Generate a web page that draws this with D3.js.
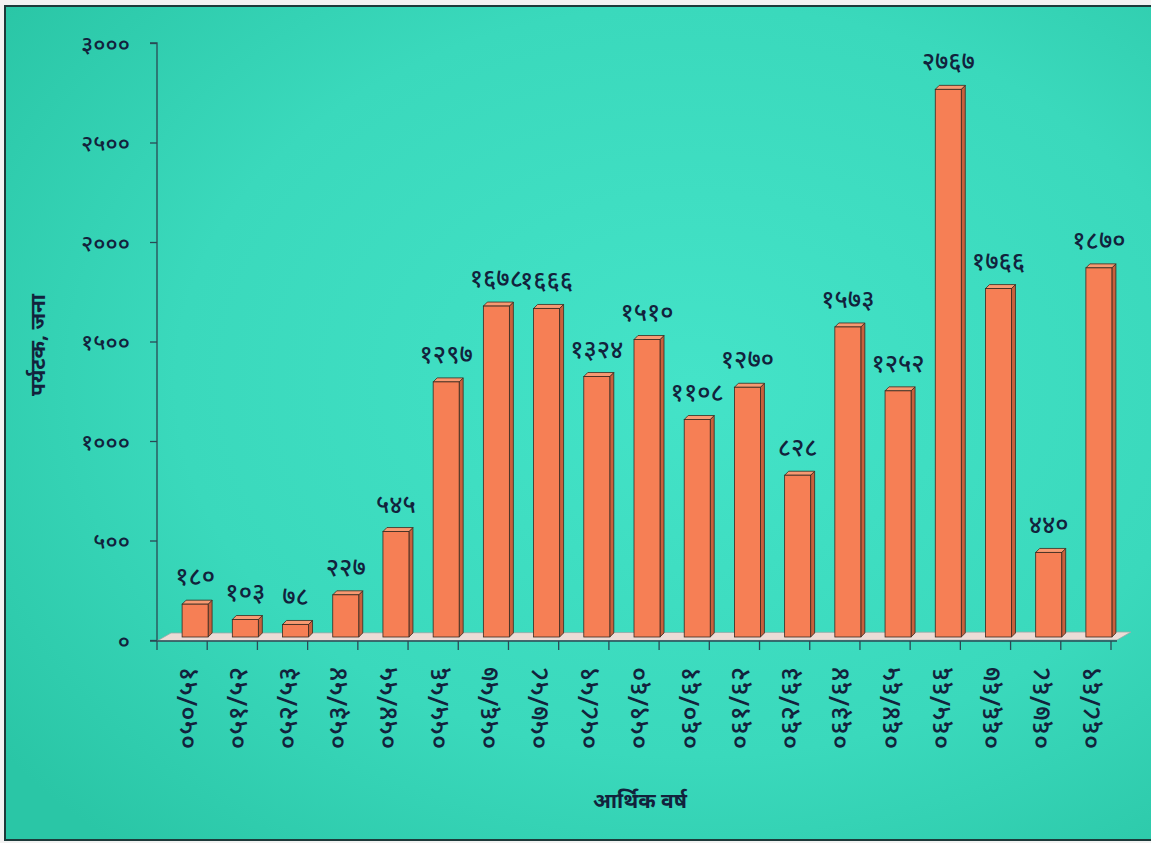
<!DOCTYPE html>
<html><head><meta charset="utf-8">
<script src="https://cdn.jsdelivr.net/npm/d3@7/dist/d3.min.js"></script>
<style>
html,body{margin:0;padding:0;background:#f4f4f4;}
svg{display:block;}
text{font-family:"Noto Sans","Noto Sans Devanagari","Lohit Devanagari",sans-serif;}
</style></head>
<body>
<script>
const categories = ["०५०/५१","०५१/५२","०५२/५३","०५३/५४","०५४/५५","०५५/५६","०५६/५७","०५७/५८","०५८/५९","०५९/६०","०६०/६१","०६१/६२","०६२/६३","०६३/६४","०६४/६५","०६५/६६","०६६/६७","०६७/६८","०६८/६९"];
const values = [180,103,78,227,545,1297,1678,1666,1324,1510,1108,1270,828,1573,1252,2767,1766,440,1870];
const tickValues = [0,500,1000,1500,2000,2500,3000];
const tickLabels = ["०","५००","१०००","१५००","२०००","२५००","३०००"];
const yTitle = "पर्यटक, जना";
const xTitle = "आर्थिक वर्ष";
const devDigits = "०१२३४५६७८९";
const toDev = n => String(n).replace(/[0-9]/g, d => devDigits[+d]);

const W = 1151, H = 843;
const svg = d3.select("body").append("svg").attr("width", W).attr("height", H);
const defs = svg.append("defs");
const g1 = defs.append("radialGradient").attr("id","bg").attr("cx","0.6").attr("cy","0.45").attr("r","0.75");
g1.append("stop").attr("offset","0").attr("stop-color","#44e3c8");
g1.append("stop").attr("offset","0.6").attr("stop-color","#3ad9bc");
g1.append("stop").attr("offset","1").attr("stop-color","#2ac6a6");

svg.append("rect").attr("x",0).attr("y",0).attr("width",W).attr("height",H).attr("fill","#f2f2f2");
svg.append("rect").attr("x",5).attr("y",6).attr("width",W-5).attr("height",H-9).attr("fill","url(#bg)");
svg.append("path").attr("d",`M${W},6 H5 V${H-3} H${W}`).attr("fill","none").attr("stroke","#1d3a3a").attr("stroke-width",2);

const x = d3.scaleBand().domain(categories).range([157,1111]).padding(0);
const y = d3.scaleLinear().domain([0,3000]).range([640,43]);
const ink = "#12223c";

// y axis
const yAxis = d3.axisLeft(y).tickValues(tickValues).tickSize(7).tickPadding(20)
  .tickFormat((d,i)=>tickLabels[i]);
const ya = svg.append("g").attr("transform","translate(157,0)").call(yAxis);
ya.select(".domain").attr("stroke","#2a4a55").attr("stroke-width",1.3).attr("d","M-7,43H0V640");
ya.selectAll(".tick line").attr("stroke","#2a4a55").attr("stroke-width",1.3);
ya.selectAll(".tick text").attr("fill",ink).attr("font-size",23).attr("font-weight",500).attr("dy","0.35em");

// floor
const floorPts = [[157,641],[1117,640],[1131,632],[171,633]];
svg.append("polygon").attr("points",floorPts.map(p=>p.join(",")).join(" "))
  .attr("fill","#ecdcd6").attr("stroke","#9aa8a8").attr("stroke-width",0.8);

// x axis (ticks at band boundaries)
const xa = svg.append("g").attr("transform","translate(0,640)");
xa.append("line").attr("x1",150).attr("x2",1117).attr("y1",1).attr("y2",1).attr("stroke","#2a4a55").attr("stroke-width",1.3);
const bounds = categories.map(c=>x(c)).concat([x.range()[1]]);
xa.selectAll("line.tk").data(bounds).join("line").attr("class","tk")
  .attr("x1",d=>d).attr("x2",d=>d).attr("y1",1).attr("y2",10).attr("stroke","#2a4a55").attr("stroke-width",1.3);
xa.selectAll("text.cat").data(categories).join("text").attr("class","cat")
  .attr("transform",d=>`translate(${x(d)+x.bandwidth()/2+5},27) rotate(-90)`)
  .attr("text-anchor","end").attr("dy","0.35em")
  .attr("fill",ink).attr("font-size",27).attr("font-weight",500).text(d=>d);

// bars (3D look)
const bw = 26, dx = 4, dy = 4;
const base = 637;
const bars = svg.append("g");
categories.forEach((c,i)=>{
  const cx = x(c) + x.bandwidth()/2 + 13;
  const x0 = cx - bw/2, top = y(values[i]);
  bars.append("polygon").attr("points",`${x0+bw},${top} ${x0+bw+dx},${top-dy} ${x0+bw+dx},${base-dy} ${x0+bw},${base}`)
    .attr("fill","#c8603c").attr("stroke","#3a2a20").attr("stroke-width",0.8);
  bars.append("polygon").attr("points",`${x0},${top} ${x0+dx},${top-dy} ${x0+bw+dx},${top-dy} ${x0+bw},${top}`)
    .attr("fill","#f79a72").attr("stroke","#3a2a20").attr("stroke-width",0.8);
  bars.append("rect").attr("x",x0).attr("y",top).attr("width",bw).attr("height",base-top)
    .attr("fill","#f67f55").attr("stroke","#3a2a20").attr("stroke-width",0.8);
  bars.append("text").attr("x",cx).attr("y",top-19).attr("text-anchor","middle")
    .attr("fill",ink).attr("font-size",25).attr("font-weight",500).text(toDev(values[i]));
});

// titles
svg.append("text").attr("transform","translate(38,345) rotate(-90)").attr("text-anchor","middle")
  .attr("dy","0.35em").attr("fill",ink).attr("font-size",21).attr("font-weight","bold").text(yTitle);
svg.append("text").attr("x",640).attr("y",808).attr("text-anchor","middle")
  .attr("fill",ink).attr("font-size",21).attr("font-weight","bold").text(xTitle);
</script>
</body></html>
